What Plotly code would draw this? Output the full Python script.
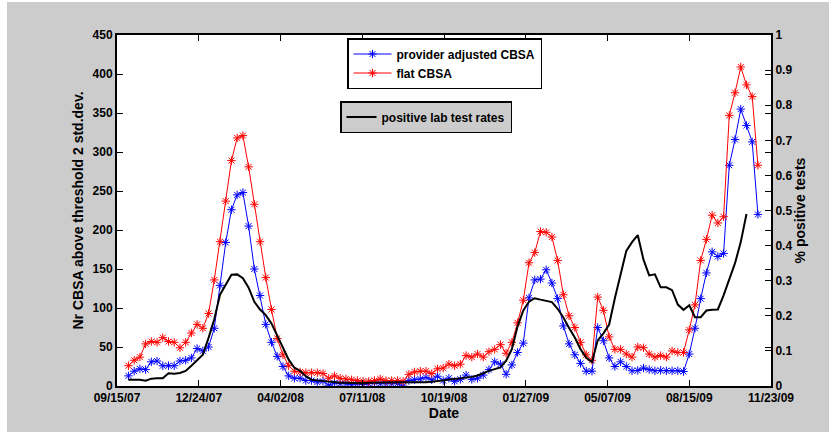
import pandas as pd
import plotly.graph_objects as go

# ---- data ----
start_date = "2007-09-29"
n_weeks = 111

provider_adjusted = [
    13, 19, 22, 21, 31, 32, 26, 26, 26, 32, 33, 36, 48, 45, 50, 74, 129, 184, 226, 245,
    248, 205, 150, 116, 79, 56, 38, 25, 13, 10,
    10, 7, 7, 5, 6, 1, 4, 3, 3, 1.5,
    3, 2, 3, 4, 3, 3, 3, 3, 0, 7,
    8, 9, 11, 8, 12.5, 7, 10, 6, 8.5, 14,
    8.5, 10, 14, 21, 31, 28, 15, 27, 43, 55,
    113, 136, 137, 149, 132, 112, 77, 54, 40, 29,
    19, 19, 75, 58, 36, 25, 31, 25, 19.5, 20,
    23, 21, 19.5, 20, 19.5, 19.5, 19.5, 18.6, 41, 74,
    112, 145, 172, 166, 170, 283, 316, 355, 334, 313, 220,
]

flat_cbsa = [
    26, 33, 37, 54, 57, 56, 62, 57, 56, 49, 56, 68, 79, 74, 93, 136, 185, 237, 289, 318,
    321, 281, 233, 185, 139, 98, 61, 40, 26, 19,
    18, 17, 17, 17, 16, 10, 13, 10, 9, 8,
    7, 6, 6, 7, 9, 7, 7, 7, 6, 15,
    18, 19, 19, 16, 22, 23, 28, 26, 28, 39,
    37, 41, 37, 44, 47, 53, 42, 56, 81, 110,
    158, 171, 198, 197, 191, 161, 117, 90, 75, 56,
    40, 33, 114, 97, 63, 47, 47, 41, 37, 50,
    49, 41, 37, 39, 37, 45, 43, 43, 72, 104,
    161, 188, 219, 209, 217, 347, 376, 409, 386, 371, 283,
]

positive_lab_rates = [
    0.018, 0.018, 0.018, 0.015, 0.021, 0.022, 0.022, 0.036, 0.035, 0.037,
    0.043, 0.058, 0.074, 0.089, 0.137, 0.19, 0.26, 0.29, 0.317, 0.318,
    0.307, 0.28, 0.24, 0.218, 0.202, 0.178, 0.145, 0.11, 0.075, 0.052,
    0.043, 0.028, 0.018, 0.016, 0.014, 0.012, 0.011, 0.009, 0.009, 0.008,
    0.008, 0.008, 0.009, 0.01, 0.01, 0.01, 0.011, 0.011, 0.011, 0.01,
    0.01, 0.009, 0.011, 0.012, 0.014, 0.016, 0.018, 0.019, 0.021, 0.023,
    0.026, 0.03, 0.037, 0.043, 0.048, 0.053, 0.072, 0.105, 0.17, 0.215,
    0.24, 0.25, 0.246, 0.242, 0.239, 0.22, 0.195, 0.165, 0.138, 0.105,
    0.08, 0.068, 0.13, 0.15, 0.175, 0.25, 0.32, 0.385, 0.41, 0.43,
    0.36, 0.315, 0.318, 0.281, 0.281, 0.273, 0.232, 0.217, 0.23, 0.196,
    0.196, 0.215, 0.217, 0.218, 0.258, 0.305, 0.35, 0.41, 0.49, None, None,
]

x_tick_labels = ["09/15/07", "12/24/07", "04/02/08", "07/11/08", "10/19/08",
                 "01/27/09", "05/07/09", "08/15/09", "11/23/09"]
left_ticks = [0, 50, 100, 150, 200, 250, 300, 350, 400, 450]
right_ticks = [0, 0.1, 0.2, 0.3, 0.4, 0.5, 0.6, 0.7, 0.8, 0.9, 1]
right_tick_text = ["0", "0.1", "0.2", "0.3", "0.4", "0.5", "0.6", "0.7", "0.8", "0.9", "1"]

dates = pd.date_range(start_date, periods=n_weeks, freq="7D")
tick_dates = [pd.to_datetime(t, format="%m/%d/%y") for t in x_tick_labels]

FONT = "Liberation Sans, Arial, sans-serif"
GREY = "#CCCCCC"

fig = go.Figure()
fig.add_trace(go.Scatter(
    x=dates, y=provider_adjusted, name="provider adjusted CBSA",
    mode="lines+markers", line=dict(color="#0000FF", width=1),
    marker=dict(symbol="asterisk-open", size=7, line=dict(color="#0000FF", width=1)),
    legend="legend",
))
fig.add_trace(go.Scatter(
    x=dates, y=flat_cbsa, name="flat CBSA",
    mode="lines+markers", line=dict(color="#FF0000", width=1),
    marker=dict(symbol="asterisk-open", size=7, line=dict(color="#FF0000", width=1)),
    legend="legend",
))
fig.add_trace(go.Scatter(
    x=dates, y=positive_lab_rates, name="positive lab test rates",
    mode="lines", line=dict(color="black", width=2), yaxis="y2",
    legend="legend2", connectgaps=False,
))

L, R, T, B = 117, 69, 35, 46
W, H = 840, 432
pw, ph = W - L - R, H - T - B

def px_x(x):
    return (x - L) / pw

def px_y(y):
    return (H - B - y) / ph

fig.update_layout(
    width=W, height=H,
    margin=dict(l=L, r=R, t=T, b=B, pad=0, autoexpand=False),
    paper_bgcolor="white",
    plot_bgcolor="white",
    hovermode=False,
    font=dict(family=FONT, size=12, color="black", weight="bold"),
    shapes=[
        dict(type="rect", xref="paper", yref="paper", layer="below",
             x0=px_x(7), x1=px_x(829), y0=px_y(433), y1=px_y(2),
             fillcolor=GREY, line=dict(width=0)),
        dict(type="rect", xref="paper", yref="paper", layer="below",
             x0=0, x1=1, y0=0, y1=1, fillcolor="white", line=dict(width=0)),
    ],
    xaxis=dict(
        range=[tick_dates[0], tick_dates[-1]],
        tickvals=tick_dates, ticktext=x_tick_labels,
        ticks="inside", ticklen=6, tickcolor="black", tickwidth=1,
        showline=True, linecolor="black", linewidth=2, mirror="ticks",
        showgrid=False, zeroline=False, automargin=False,
        title=dict(text="Date", standoff=4),
        tickfont=dict(family=FONT, size=12, weight="bold"),
    ),
    yaxis=dict(
        range=[0, 450], tickvals=left_ticks,
        ticks="inside", ticklen=6, tickcolor="black", tickwidth=1,
        showline=True, linecolor="black", linewidth=2, mirror="ticks",
        showgrid=False, zeroline=False, automargin=False,
        title=dict(text="Nr CBSA above threshold 2 std.dev.", standoff=6),
        tickfont=dict(family=FONT, size=12, weight="bold"),
    ),
    yaxis2=dict(
        range=[0, 1], tickvals=right_ticks, ticktext=right_tick_text,
        overlaying="y", side="right",
        ticks="inside", ticklen=6, tickcolor="black", tickwidth=1,
        showline=True, linecolor="black", linewidth=2,
        showgrid=False, zeroline=False, automargin=False,
        title=dict(text="% positive tests", standoff=4),
        tickfont=dict(family=FONT, size=12, weight="bold"),
    ),
    legend=dict(
        x=px_x(347), y=px_y(38), xanchor="left", yanchor="top",
        bgcolor="white", bordercolor="black", borderwidth=1.5,
        font=dict(family=FONT, size=12, weight="bold"),
        tracegroupgap=0, itemwidth=38,
    ),
    legend2=dict(
        x=px_x(340), y=px_y(101), xanchor="left", yanchor="top",
        bgcolor=GREY, bordercolor="black", borderwidth=1.5,
        font=dict(family=FONT, size=12, weight="bold"),
    ),
)

fig.write_html(
    "out.html",
    config={"displayModeBar": False, "staticPlot": True},
    post_script="document.body.style.margin='0px';document.body.style.padding='0px';",
)
